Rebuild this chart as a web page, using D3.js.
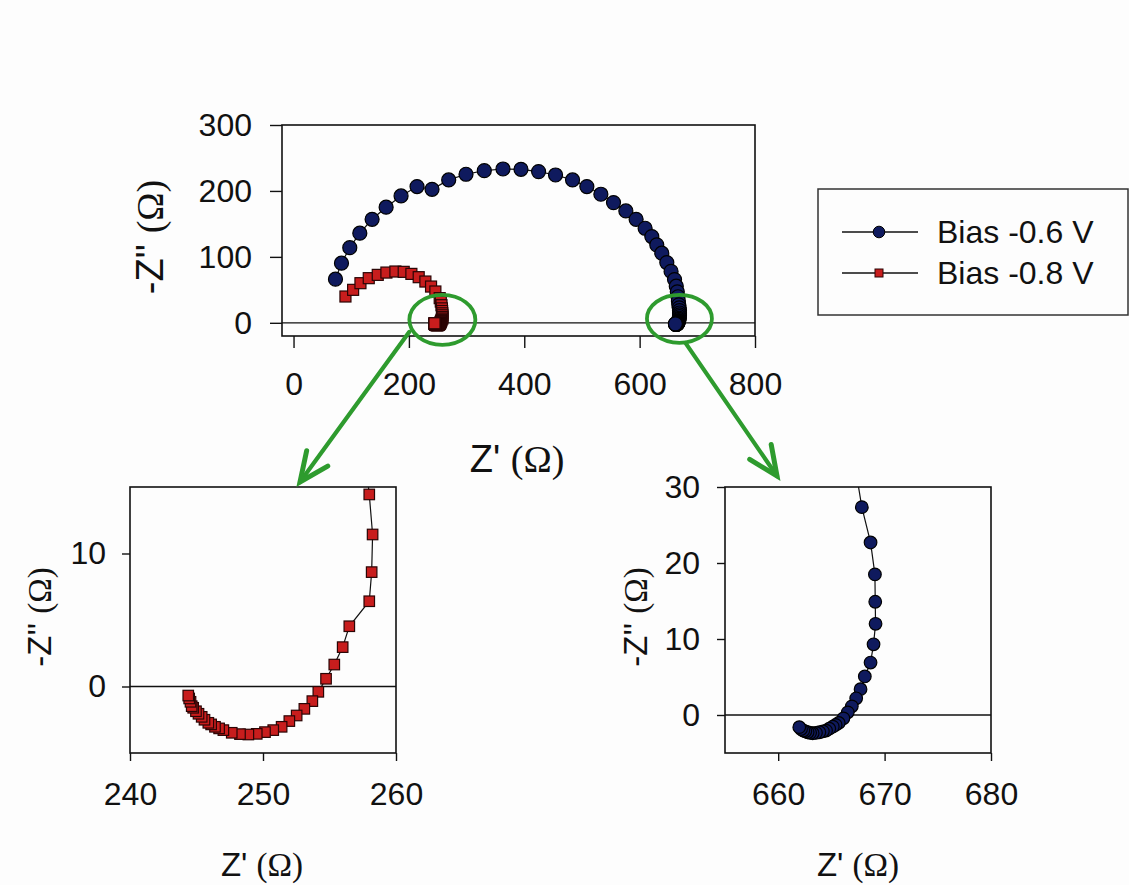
<!DOCTYPE html>
<html>
<head>
<meta charset="utf-8">
<script src="https://cdn.jsdelivr.net/npm/d3@7"></script>
<style>
  html, body { margin: 0; padding: 0; background: #fdfdfd; }
  svg { display: block; }
  text { font-family: "Liberation Sans", Arial, sans-serif; fill: #111; }
</style>
</head>
<body>
<svg id="chart" width="1129" height="885"></svg>
<script>
// ---------- DATA ----------
const seriesNames = ["Bias -0.6 V", "Bias -0.8 V"];

// Bias -0.6 V : Z' (ohm)
const biasA_x = [72.7, 83.1, 97.5, 114.9, 136.2, 160.5, 186.4, 214.1, 240.1, 269, 299, 330.7, 363.1, 394.3,
  424.8, 454.2, 483.7, 508.5, 532.8, 554.7, 576.1, 593.9, 609.5, 621.1, 629.7, 638.4, 647.1, 654.5, 660.5,
  663.5, 665.3, 666.5, 667.2, 667.86, 668.68, 669.09, 669.12, 669.15, 668.96, 668.68, 668.14, 667.74, 667.33,
  666.92, 666.54, 666.13, 665.69, 665.4, 665.13, 664.8, 664.5, 664.2, 663.87, 663.55, 663.24, 663.0, 662.77,
  662.55, 662.36, 662.15, 661.98];
// Bias -0.6 V : -Z'' (ohm)
const biasA_y = [66.2, 90.4, 114, 135.9, 157, 175.3, 192.4, 206.6, 202.5, 216.7, 225.3, 230.8, 233.3, 232.8,
  229.3, 224.2, 216.7, 206.6, 195, 182.3, 169.7, 157, 143.4, 130.8, 118.2, 105.6, 91.4, 78, 65.5,
  55.5, 47, 39.5, 33, 27.35, 22.7, 18.5, 14.9, 12.0, 9.3, 6.9, 5.07, 3.4, 2.2,
  1.14, 0.35, -0.44, -1.05, -1.3, -1.53, -1.8, -2.05, -2.15, -2.27, -2.35, -2.4, -2.35, -2.27,
  -2.15, -2.05, -1.85, -1.6];

// Bias -0.8 V : Z' (ohm)
const biasB_x = [90, 103.3, 116, 130.4, 146, 161, 176.6, 191, 204.3, 217, 228.6, 238.4, 245.9, 253.4,
  255.3, 256.5, 257.2, 257.6, 257.99, 258.24, 258.17, 257.99, 256.49, 255.99, 255.36, 254.74, 254.16,
  253.71, 253.11, 252.53, 251.98, 251.4, 250.77, 250.15, 249.53, 248.9, 248.27, 247.65, 247.02, 246.7,
  246.39, 246.1, 245.89, 245.6, 245.39, 245.15, 244.96, 244.75, 244.64, 244.55, 244.45, 244.38];
// Bias -0.8 V : -Z'' (ohm)
const biasB_y = [39.9, 50, 60.1, 67.7, 72.7, 76.2, 77.8, 77.3, 74.2, 69.2, 62.6, 55, 47.5, 37.4,
  32.2, 26.7, 21.9, 17.9, 14.44, 11.43, 8.6, 6.41, 4.53, 2.96, 1.65, 0.58, -0.4,
  -1.1, -1.68, -2.18, -2.6, -3.03, -3.28, -3.43, -3.56, -3.61, -3.58, -3.48, -3.28, -3.15,
  -3.03, -2.85, -2.73, -2.5, -2.28, -2.05, -1.86, -1.6, -1.48, -1.15, -0.9, -0.68];

// tick values
const mainXTicks = [0, 200, 400, 600, 800];
const mainYTicks = [0, 100, 200, 300];
const leftXTicks = [240, 250, 260];
const leftYTicks = [0, 10];
const rightXTicks = [660, 670, 680];
const rightYTicks = [0, 10, 20, 30];

// ---------- BUILD ----------
const svg = d3.select("#chart");
const SANS = '"Liberation Sans", Arial, sans-serif';
const SERIF = '"Liberation Serif", "Times New Roman", serif';
const BLUE = "#0f1a5e", RED = "#c81d1d", GREEN = "#2e9b2e";

const dataA = biasA_x.map((x, i) => ({x, y: biasA_y[i]}));
const dataB = biasB_x.map((x, i) => ({x, y: biasB_y[i]}));

let clipId = 0;
function panel(cfg) {
  const x = d3.scaleLinear().domain(cfg.xDom).range([cfg.left, cfg.right]);
  const y = d3.scaleLinear().domain(cfg.yDom).range([cfg.bottom, cfg.top]);
  const g = svg.append("g");
  const id = "clip" + (clipId++);
  g.append("clipPath").attr("id", id).append("rect")
    .attr("x", cfg.left).attr("y", cfg.top)
    .attr("width", cfg.right - cfg.left).attr("height", cfg.bottom - cfg.top);

  // zero line
  g.append("line").attr("x1", cfg.left).attr("x2", cfg.right)
    .attr("y1", y(0)).attr("y2", y(0)).attr("stroke", "#111").attr("stroke-width", 1.3);

  const plot = g.append("g").attr("clip-path", `url(#${id})`);
  const line = d3.line().x(d => x(d.x)).y(d => y(d.y));
  const series = [
    {data: dataA, kind: "circle"},
    {data: dataB, kind: "square"}
  ];
  series.forEach(s => {
    plot.append("path").datum(s.data).attr("d", line)
      .attr("fill", "none").attr("stroke", "#111").attr("stroke-width", 1.2);
    if (s.kind === "circle") {
      plot.selectAll(null).data(s.data).enter().append("circle")
        .attr("cx", d => x(d.x)).attr("cy", d => y(d.y)).attr("r", cfg.r)
        .attr("fill", BLUE).attr("stroke", "#000").attr("stroke-width", 1.2);
    } else {
      plot.selectAll(null).data(s.data).enter().append("rect")
        .attr("x", d => x(d.x) - cfg.sq / 2).attr("y", d => y(d.y) - cfg.sq / 2)
        .attr("width", cfg.sq).attr("height", cfg.sq)
        .attr("fill", RED).attr("stroke", "#2a0505").attr("stroke-width", 1.2);
    }
  });

  // frame
  g.append("rect").attr("x", cfg.left).attr("y", cfg.top)
    .attr("width", cfg.right - cfg.left).attr("height", cfg.bottom - cfg.top)
    .attr("fill", "none").attr("stroke", "#111").attr("stroke-width", 1.6);

  // axes
  const ax = g.append("g").attr("transform", `translate(0,${cfg.bottom})`)
    .call(d3.axisBottom(x).tickValues(cfg.xTicks).tickSize(cfg.tick).tickPadding(cfg.xPad).tickFormat(d3.format("d")));
  const ay = g.append("g").attr("transform", `translate(${cfg.left},0)`)
    .call(d3.axisLeft(y).tickValues(cfg.yTicks).tickSize(cfg.tick).tickPadding(cfg.yPad).tickFormat(d3.format("d")));
  [ax, ay].forEach(a => {
    a.select(".domain").remove();
    a.selectAll(".tick line").attr("stroke", "#111").attr("stroke-width", 1.4);
    a.selectAll(".tick text").attr("font-family", SANS).attr("font-size", cfg.fs).attr("fill", "#111");
  });

  // axis titles
  const xt = g.append("text").attr("x", cfg.xLabel[0]).attr("y", cfg.xLabel[1])
    .attr("text-anchor", "middle").attr("font-size", cfg.lfs);
  xt.append("tspan").attr("font-family", SANS).text("Z' ");
  xt.append("tspan").attr("font-family", SERIF).text("(Ω)");

  const yt = g.append("text")
    .attr("transform", `translate(${cfg.yLabel[0]},${cfg.yLabel[1]}) rotate(-90)`)
    .attr("text-anchor", "middle").attr("font-size", cfg.lfs);
  yt.append("tspan").attr("font-family", SANS).text("-Z'' ");
  yt.append("tspan").attr("font-family", SERIF).text("(Ω)");

  return {x, y};
}

// main panel
const main = panel({
  left: 282, right: 755, top: 125, bottom: 336,
  xDom: [-20, 800], yDom: [-20, 300],
  xTicks: mainXTicks, yTicks: mainYTicks,
  tick: 12, xPad: 24, yPad: 18, fs: 32, lfs: 38,
  r: 7, sq: 11,
  xLabel: [517, 472], yLabel: [163, 237]
});

// left inset
panel({
  left: 130, right: 396, top: 487, bottom: 753,
  xDom: [240, 260], yDom: [-5, 15],
  xTicks: leftXTicks, yTicks: leftYTicks,
  tick: 8, xPad: 21, yPad: 16, fs: 32, lfs: 33,
  r: 6.3, sq: 10.5,
  xLabel: [262, 876], yLabel: [51, 617]
});

// right inset
panel({
  left: 725, right: 991, top: 487, bottom: 753,
  xDom: [655, 680], yDom: [-5, 30],
  xTicks: rightXTicks, yTicks: rightYTicks,
  tick: 8, xPad: 21, yPad: 17, fs: 32, lfs: 33,
  r: 6.3, sq: 10.5,
  xLabel: [858, 876], yLabel: [647, 617]
});

// ---------- annotations (green ellipses + arrows) ----------
const ann = svg.append("g").attr("stroke", GREEN).attr("fill", "none").attr("stroke-width", 3.8);
const e1 = {cx: main.x(258), cy: main.y(4.5), rx: 33, ry: 25};
const e2 = {cx: main.x(669), cy: main.y(6), rx: 32.5, ry: 24};
[e1, e2].forEach(e => ann.append("ellipse").attr("cx", e.cx).attr("cy", e.cy).attr("rx", e.rx).attr("ry", e.ry));

function arrow(x1, y1, x2, y2) {
  const a = Math.atan2(y2 - y1, x2 - x1), L = 32, w = 0.42;
  ann.append("line").attr("x1", x1).attr("y1", y1).attr("x2", x2).attr("y2", y2)
    .attr("stroke-width", 4.2).attr("stroke-linecap", "round");
  const p1 = [x2 - L * Math.cos(a - w), y2 - L * Math.sin(a - w)];
  const p2 = [x2 - L * Math.cos(a + w), y2 - L * Math.sin(a + w)];
  ann.append("path").attr("d", `M${p1[0]},${p1[1]}L${x2},${y2}L${p2[0]},${p2[1]}`)
    .attr("stroke-width", 5).attr("stroke-linejoin", "miter").attr("stroke-linecap", "round");
}
arrow(e1.cx - 33, e1.cy + 12, 300, 482);
arrow(e2.cx + 6, e2.cy + 24, 777, 476);

// ---------- legend ----------
const lg = svg.append("g");
lg.append("rect").attr("x", 818).attr("y", 189).attr("width", 310).attr("height", 126)
  .attr("fill", "#fdfdfd").attr("stroke", "#333").attr("stroke-width", 1.5);
const rows = [232, 273];
rows.forEach((ry, i) => {
  lg.append("line").attr("x1", 842).attr("x2", 918).attr("y1", ry).attr("y2", ry)
    .attr("stroke", "#111").attr("stroke-width", 1.4);
  if (i === 0) {
    lg.append("circle").attr("cx", 879).attr("cy", ry).attr("r", 5.8)
      .attr("fill", BLUE).attr("stroke", "#000").attr("stroke-width", 1);
  } else {
    lg.append("rect").attr("x", 875).attr("y", ry - 4).attr("width", 8).attr("height", 8)
      .attr("fill", RED).attr("stroke", "#2a0505").attr("stroke-width", 1);
  }
  lg.append("text").attr("x", 937).attr("y", ry + 11).attr("font-family", SANS)
    .attr("font-size", 32).text(seriesNames[i]);
});
</script>
</body>
</html>
